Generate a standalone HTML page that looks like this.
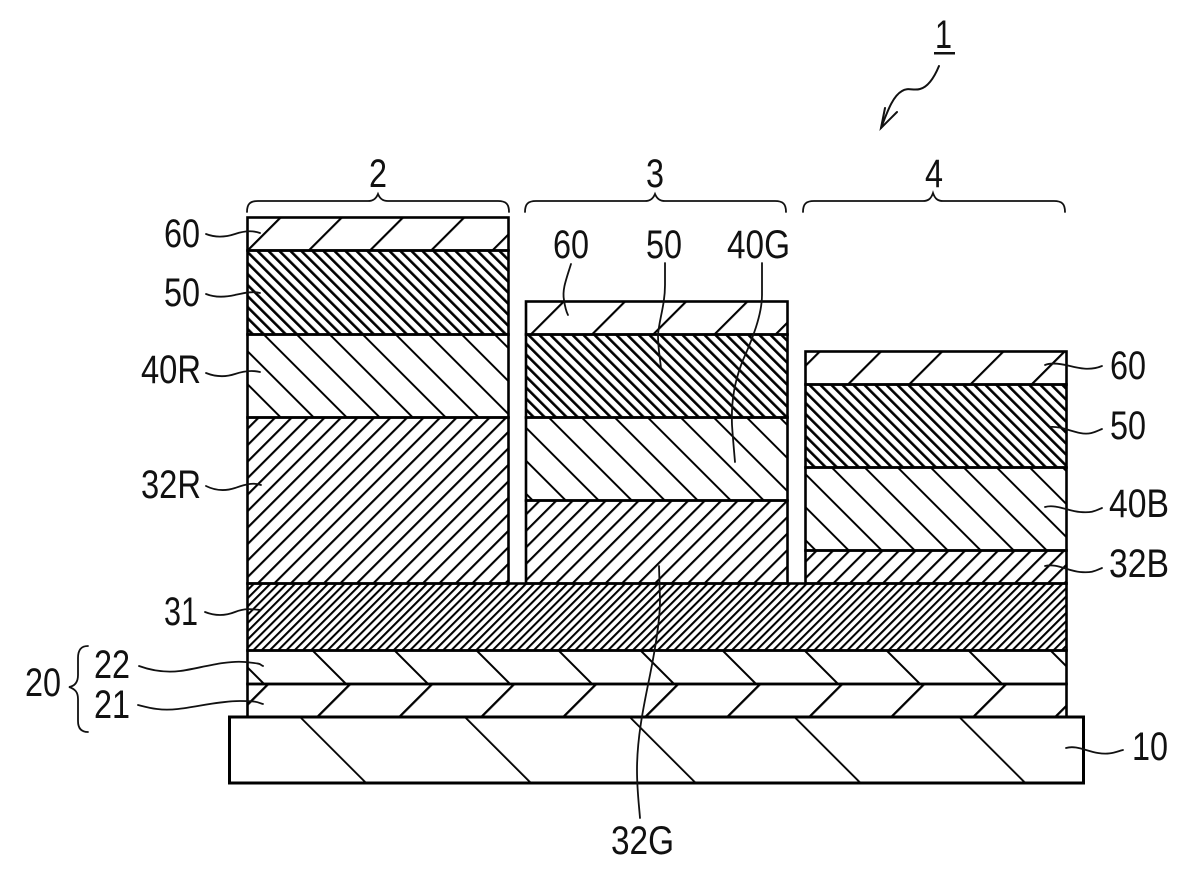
<!DOCTYPE html>
<html><head><meta charset="utf-8"><style>
html,body{margin:0;padding:0;background:#fff}
svg{display:block}
text{font-family:"Liberation Sans",sans-serif;font-size:40px;fill:#111}
.l{fill:none;stroke:#111;stroke-width:1.8;stroke-linecap:round}
.b{stroke:#000;stroke-width:2.6}
</style></head><body>
<svg width="1184" height="882" viewBox="0 0 1184 882" xmlns="http://www.w3.org/2000/svg">
<defs>
<pattern id="p60" patternUnits="userSpaceOnUse" x="496.6" y="0" width="61.2" height="10" patternTransform="rotate(45) scale(.7071)"><rect width="3" height="10" fill="#000"/></pattern>
<pattern id="p50" patternUnits="userSpaceOnUse" x="-6.3" y="0" width="11" height="10" patternTransform="rotate(-45) scale(.7071)"><rect width="3.7" height="10" fill="#000"/></pattern>
<pattern id="p40R" patternUnits="userSpaceOnUse" x="-138.1" y="0" width="33" height="10" patternTransform="rotate(-45) scale(.7071)"><rect width="2.8" height="10" fill="#000"/></pattern>
<pattern id="p40G" patternUnits="userSpaceOnUse" x="63.9" y="0" width="33" height="10" patternTransform="rotate(-45) scale(.7071)"><rect width="2.8" height="10" fill="#000"/></pattern>
<pattern id="p40B" patternUnits="userSpaceOnUse" x="296.9" y="0" width="33" height="10" patternTransform="rotate(-45) scale(.7071)"><rect width="2.8" height="10" fill="#000"/></pattern>
<pattern id="p32R" patternUnits="userSpaceOnUse" x="839.75" y="0" width="16.5" height="10" patternTransform="rotate(45) scale(.7071)"><rect width="3" height="10" fill="#000"/></pattern>
<pattern id="p32G" patternUnits="userSpaceOnUse" x="1055.45" y="0" width="16.5" height="10" patternTransform="rotate(45) scale(.7071)"><rect width="3" height="10" fill="#000"/></pattern>
<pattern id="p32B" patternUnits="userSpaceOnUse" x="1365.75" y="0" width="16.5" height="10" patternTransform="rotate(45) scale(.7071)"><rect width="3" height="10" fill="#000"/></pattern>
<pattern id="p31" patternUnits="userSpaceOnUse" x="836.2" y="0" width="8.25" height="10" patternTransform="rotate(45) scale(.7071)"><rect width="2.9" height="10" fill="#000"/></pattern>
<pattern id="p22" patternUnits="userSpaceOnUse" x="-339.3" y="0" width="82" height="10" patternTransform="rotate(-45) scale(.7071)"><rect width="2.8" height="10" fill="#000"/></pattern>
<pattern id="p21" patternUnits="userSpaceOnUse" x="1032.7" y="0" width="82" height="10" patternTransform="rotate(45) scale(.7071)"><rect width="3.2" height="10" fill="#000"/></pattern>
<pattern id="p10" patternUnits="userSpaceOnUse" x="-418.2" y="0" width="164.8" height="10" patternTransform="rotate(-45) scale(.7071)"><rect width="2.6" height="10" fill="#000"/></pattern>
</defs>
<rect width="1184" height="882" fill="#fff"/>

<!-- block 2 -->
<rect x="247.5" y="217.5" width="261" height="33" fill="url(#p60)" class="b"/>
<rect x="247.5" y="250.5" width="261" height="84" fill="url(#p50)" class="b"/>
<rect x="247.5" y="334.5" width="261" height="83" fill="url(#p40R)" class="b"/>
<rect x="247.5" y="417.5" width="261" height="166" fill="url(#p32R)" class="b"/>
<!-- block 3 -->
<rect x="526" y="301.5" width="261.5" height="33" fill="url(#p60)" class="b"/>
<rect x="526" y="334.5" width="261.5" height="83" fill="url(#p50)" class="b"/>
<rect x="526" y="417.5" width="261.5" height="83" fill="url(#p40G)" class="b"/>
<rect x="526" y="500.5" width="261.5" height="83" fill="url(#p32G)" class="b"/>
<!-- block 4 -->
<rect x="805.5" y="351.5" width="261" height="33" fill="url(#p60)" class="b"/>
<rect x="805.5" y="384.5" width="261" height="83" fill="url(#p50)" class="b"/>
<rect x="805.5" y="467.5" width="261" height="83" fill="url(#p40B)" class="b"/>
<rect x="805.5" y="550.5" width="261" height="33" fill="url(#p32B)" class="b"/>
<!-- base layers -->
<rect x="247.5" y="583.5" width="819" height="67" fill="url(#p31)" class="b"/>
<rect x="247.5" y="650.5" width="819" height="33.5" fill="url(#p22)" class="b"/>
<rect x="247.5" y="684" width="819" height="33" fill="url(#p21)" class="b"/>
<rect x="229.5" y="717" width="854" height="66" fill="url(#p10)" class="b" style="stroke-width:3"/>

<!-- braces -->
<path class="l" d="M247 212 C247 204 250 201 258 201 L368 201 C373 201 376 199 378 194 C380 199 383 201 388 201 L498 201 C506 201 509 204 509 212"/>
<path class="l" d="M525 212 C525 204 528 201 536 201 L645 201 C650 201 653 199 655 194 C657 199 660 201 665 201 L775 201 C783 201 786 204 786 212"/>
<path class="l" d="M803 212 C803 204 806 201 814 201 L923 201 C928 201 931 199 933 193 C935 199 938 201 943 201 L1054 201 C1062 201 1065 204 1065 212"/>
<path class="l" d="M88 646 C81 646 78 650 78 658 L78 675 C78 682 75 686 69 687 C75 689 78 692 78 699 L78 721 C78 728 81 732 88 732"/>

<!-- leaders left -->
<path class="l" d="M206 234 C216 238 226 237 235 234 S252 230 260 233"/>
<path class="l" d="M206 294 C216 298 226 297 235 295 S252 291 260 293"/>
<path class="l" d="M206 373 C216 377 226 377 235 374 S252 370 260 372"/>
<path class="l" d="M206 486 C216 491 226 491 235 488 S252 482 261 485"/>
<path class="l" d="M205 612 C215 616 225 616 235 612 S252 609 260 610"/>
<path class="l" d="M139 666 C150 670 163 673 180 671 S225 660 245 662 S258 664 263 666"/>
<path class="l" d="M138 705 C150 708 160 711 178 709 S220 701 240 701 S258 703 263 704"/>
<!-- leaders middle -->
<path class="l" d="M571 264 C566 280 562 290 564 300 C565 307 566 311 568 315"/>
<path class="l" d="M665 263 L665 285 C665 305 659 320 658 335 C658 348 660 358 661 368"/>
<path class="l" d="M762 263 L762 295 C762 315 752 340 743 360 C735 380 731 400 732 425 C733 440 734 450 735 462"/>
<path class="l" d="M659 566 L660 600 C660 620 655 650 650 675 C645 700 637 735 637 770 C637 790 639 805 640 818"/>
<!-- leaders right -->
<path class="l" d="M1045 365 C1052 362 1062 364 1070 366 S1090 371 1102 366"/>
<path class="l" d="M1050 427 C1060 426 1070 431 1080 433 S1095 432 1102 429"/>
<path class="l" d="M1045 507 C1056 504 1068 511 1080 512 S1095 511 1102 508"/>
<path class="l" d="M1045 566 C1056 563 1068 571 1080 572 S1095 571 1102 568"/>
<path class="l" d="M1066 748 C1076 745 1086 751 1098 753 S1115 752 1123 750"/>
<!-- arrow 1 -->
<path class="l" style="stroke-width:2" d="M939 66 C934 78 928 87 920 89 C913 91 908 87 902 91 C893 96 888 110 881 128"/>
<path class="l" style="stroke-width:2" d="M885 108 L881 128 L897 112"/>
<rect x="934" y="52" width="21" height="2.5" fill="#111"/>

<!-- labels -->
<text x="935" y="48" textLength="17" lengthAdjust="spacingAndGlyphs">1</text>
<text x="369" y="187" textLength="18" lengthAdjust="spacingAndGlyphs">2</text>
<text x="646" y="187" textLength="18" lengthAdjust="spacingAndGlyphs">3</text>
<text x="925" y="187" textLength="18" lengthAdjust="spacingAndGlyphs">4</text>
<text x="164" y="247" textLength="36" lengthAdjust="spacingAndGlyphs">60</text>
<text x="164" y="306" textLength="36" lengthAdjust="spacingAndGlyphs">50</text>
<text x="141" y="383" textLength="60" lengthAdjust="spacingAndGlyphs">40R</text>
<text x="141" y="498" textLength="60" lengthAdjust="spacingAndGlyphs">32R</text>
<text x="164" y="625" textLength="34" lengthAdjust="spacingAndGlyphs">31</text>
<text x="94" y="678" textLength="36" lengthAdjust="spacingAndGlyphs">22</text>
<text x="94" y="718" textLength="36" lengthAdjust="spacingAndGlyphs">21</text>
<text x="25" y="696" textLength="36" lengthAdjust="spacingAndGlyphs">20</text>
<text x="553" y="258" textLength="36" lengthAdjust="spacingAndGlyphs">60</text>
<text x="646" y="258" textLength="36" lengthAdjust="spacingAndGlyphs">50</text>
<text x="727" y="258" textLength="63" lengthAdjust="spacingAndGlyphs">40G</text>
<text x="1110" y="379" textLength="36" lengthAdjust="spacingAndGlyphs">60</text>
<text x="1110" y="439" textLength="36" lengthAdjust="spacingAndGlyphs">50</text>
<text x="1109" y="517" textLength="60" lengthAdjust="spacingAndGlyphs">40B</text>
<text x="1109" y="577" textLength="60" lengthAdjust="spacingAndGlyphs">32B</text>
<text x="1132" y="760" textLength="36" lengthAdjust="spacingAndGlyphs">10</text>
<text x="611" y="854" textLength="63" lengthAdjust="spacingAndGlyphs">32G</text>
</svg>
</body></html>
